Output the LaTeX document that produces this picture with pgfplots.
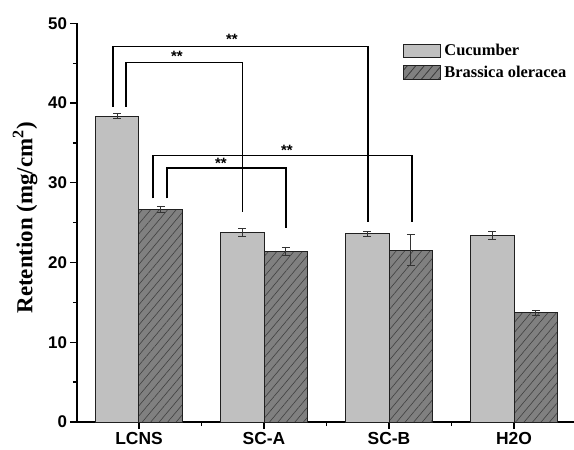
\documentclass[border=0pt]{standalone}
\usepackage{fontspec}
\setmainfont{Liberation Serif}
\newfontfamily\sansfont{Liberation Sans}
\usepackage{pgfplots}
\usepackage{pgfplotstable}
\pgfplotsset{compat=1.18}
\usetikzlibrary{patterns.meta}
\definecolor{cuc}{HTML}{C0C0C0}
\definecolor{bra}{HTML}{808080}
\definecolor{edge}{HTML}{202020}

\pgfplotstableread{
x y e
-0.175 38.34 0.30
0.825 23.79 0.52
1.825 23.58 0.31
2.825 23.41 0.46
}\cucumber
\pgfplotstableread{
x y e
0.175 26.67 0.40
1.175 21.41 0.54
2.175 21.55 1.94
3.175 13.71 0.30
}\brassica

\pgfplotsset{myerr/.style={error bars/y dir=both, error bars/y explicit,
    error bars/error bar style={line width=0.8bp, black!80},
    error bars/error mark options={rotate=90, mark size=4bp, line width=0.8bp, black!80}}}

\begin{document}
\begin{tikzpicture}
\begin{axis}[
  scale only axis, width=497bp, height=398.7bp,
  xmin=-0.496, xmax=3.48, ymin=0, ymax=50,
  axis x line*=bottom, axis y line*=left,
  axis line style={line width=1.3bp, -},
  x axis line style={shorten <=-7bp},
  xtick={0,1,2,3}, xticklabels={LCNS,SC-A,SC-B,H2O},
  minor xtick={0.5,1.5,2.5},
  ytick={0,10,...,50}, minor ytick={5,15,...,45},
  tick align=outside, major tick length=6.5bp, minor tick length=4bp,
  every tick/.style={black, line width=1.3bp},
  /pgf/number format/assume math mode=true,
  ticklabel style={font=\sansfont\bfseries\fontsize{17}{17}\selectfont},
  xticklabel style={font=\sansfont\bfseries\fontsize{17.5}{17.5}\selectfont},
  ylabel={Retention (mg/cm\textsuperscript{2})},
  every axis y label/.style={at={(axis description cs:-0.1046,0.512)}, rotate=90, anchor=center,
     font=\bfseries\fontsize{23}{23}\selectfont},
  legend style={at={(axis description cs:0.6553,0.953)}, anchor=north west, draw=none, fill=none,
     font=\bfseries\fontsize{16.5}{16.5}\selectfont, row sep=5bp, inner sep=0pt,
     nodes={inner xsep=3.5bp}},
  legend cell align=left,
  clip=false,
]
\addplot[ybar, bar width=0.35, bar shift=0, fill=cuc, draw=edge, line width=1bp,
  legend image code/.code={\draw[fill=cuc, draw=edge, line width=1bp] (0bp,-6.6bp) rectangle (37bp,6.6bp);},
  myerr]
  table[x=x, y=y, y error=e] {\cucumber};
\addlegendentry{Cucumber}
\addplot[ybar, bar width=0.35, bar shift=0, fill=bra, draw=edge, line width=1bp,
  postaction={pattern={Lines[angle=50, distance=6.5bp, line width=0.6bp]}, pattern color=black!75},
  legend image code/.code={\draw[fill=bra, draw=edge, line width=1bp,
     postaction={pattern={Lines[angle=50, distance=6.5bp, line width=0.6bp]}, pattern color=black!75}] (0bp,-6.6bp) rectangle (37bp,6.6bp);},
  myerr]
  table[x=x, y=y, y error=e] {\brassica};
\addlegendentry{Brassica oleracea}

\addplot[black, line width=1.4bp, sharp plot, no markers, forget plot]
  coordinates {(-0.208,39.54) (-0.208,47.07) (1.832,47.07) (1.832,25.12)};
\addplot[black, line width=1.4bp, sharp plot, no markers, forget plot]
  coordinates {(-0.104,39.54) (-0.104,45.06) (0.830,45.06) (0.830,26.37)};
\addplot[black, line width=1.4bp, sharp plot, no markers, forget plot]
  coordinates {(0.112,28.05) (0.112,33.40) (2.184,33.40) (2.184,25.12)};
\addplot[black, line width=1.4bp, sharp plot, no markers, forget plot]
  coordinates {(0.224,28.05) (0.224,31.85) (1.176,31.85) (1.176,24.33)};

\node[font=\sansfont\bfseries\fontsize{15}{15}\selectfont] at (axis cs:0.744,48.0) {**};
\node[font=\sansfont\bfseries\fontsize{15}{15}\selectfont] at (axis cs:0.304,45.8) {**};
\node[font=\sansfont\bfseries\fontsize{15}{15}\selectfont] at (axis cs:1.184,34.1) {**};
\node[font=\sansfont\bfseries\fontsize{15}{15}\selectfont] at (axis cs:0.656,32.4) {**};
\end{axis}
\pgfresetboundingbox
\path[use as bounding box] ([xshift=-77bp,yshift=-28bp]current axis.south west) rectangle ++(574bp,450bp);
\end{tikzpicture}
\end{document}
